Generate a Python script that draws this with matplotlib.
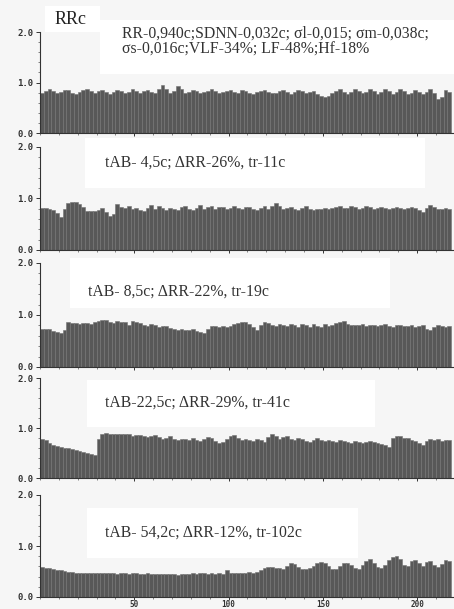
import numpy as np
import matplotlib
matplotlib.use("Agg")
import matplotlib.pyplot as plt
from matplotlib.patches import Rectangle
from matplotlib.ticker import MultipleLocator

# beat number (each bar covers 2 beats) and RR values, s
beats = np.arange(1, 218, 2)

rr_bg = [0.80, 0.84, 0.87, 0.83, 0.79, 0.82, 0.86, 0.85, 0.80, 0.78,
         0.81, 0.85, 0.88, 0.84, 0.79, 0.83, 0.86, 0.82, 0.78, 0.81,
         0.86, 0.83, 0.79, 0.82, 0.87, 0.84, 0.80, 0.83, 0.86, 0.81,
         0.80, 0.88, 0.96, 0.88, 0.80, 0.84, 0.93, 0.87, 0.80, 0.82,
         0.86, 0.83, 0.79, 0.81, 0.84, 0.87, 0.83, 0.79, 0.81, 0.84,
         0.86, 0.82, 0.80, 0.85, 0.83, 0.79, 0.78, 0.81, 0.84, 0.86,
         0.82, 0.79, 0.80, 0.83, 0.86, 0.82, 0.78, 0.81, 0.85, 0.83,
         0.79, 0.81, 0.84, 0.78, 0.73, 0.71, 0.74, 0.79, 0.84, 0.87,
         0.82, 0.78, 0.82, 0.88, 0.84, 0.79, 0.82, 0.87, 0.83, 0.78,
         0.81, 0.87, 0.83, 0.78, 0.82, 0.87, 0.83, 0.78, 0.80, 0.86,
         0.82, 0.77, 0.82, 0.87, 0.80, 0.68, 0.72, 0.85, 0.82]

rr_t1 = [0.82, 0.82, 0.80, 0.78, 0.72, 0.64, 0.80, 0.92, 0.94, 0.93,
         0.90, 0.84, 0.76, 0.75, 0.75, 0.78, 0.82, 0.74, 0.66, 0.70,
         0.90, 0.84, 0.82, 0.85, 0.80, 0.82, 0.78, 0.76, 0.82, 0.87,
         0.80, 0.86, 0.82, 0.78, 0.82, 0.79, 0.78, 0.83, 0.86, 0.80,
         0.78, 0.82, 0.87, 0.80, 0.84, 0.86, 0.80, 0.83, 0.84, 0.79,
         0.82, 0.86, 0.81, 0.79, 0.83, 0.84, 0.80, 0.78, 0.82, 0.85,
         0.80, 0.86, 0.92, 0.85, 0.80, 0.82, 0.84, 0.80, 0.78, 0.82,
         0.85, 0.80, 0.78, 0.79, 0.80, 0.82, 0.80, 0.81, 0.84, 0.86,
         0.82, 0.81, 0.85, 0.84, 0.80, 0.82, 0.86, 0.83, 0.79, 0.82,
         0.84, 0.82, 0.80, 0.81, 0.83, 0.82, 0.79, 0.81, 0.84, 0.82,
         0.78, 0.74, 0.82, 0.87, 0.83, 0.80, 0.80, 0.81, 0.80]

rr_t2 = [0.74, 0.73, 0.74, 0.70, 0.68, 0.65, 0.72, 0.86, 0.84, 0.85,
         0.83, 0.85, 0.84, 0.82, 0.86, 0.89, 0.91, 0.90, 0.86, 0.84,
         0.88, 0.87, 0.86, 0.80, 0.89, 0.87, 0.84, 0.80, 0.78, 0.82,
         0.80, 0.77, 0.79, 0.78, 0.75, 0.74, 0.72, 0.73, 0.71, 0.72,
         0.73, 0.70, 0.68, 0.66, 0.74, 0.79, 0.78, 0.76, 0.79, 0.77,
         0.78, 0.82, 0.84, 0.86, 0.86, 0.82, 0.76, 0.72, 0.80, 0.86,
         0.85, 0.81, 0.78, 0.82, 0.80, 0.78, 0.82, 0.80, 0.77, 0.82,
         0.80, 0.76, 0.82, 0.79, 0.77, 0.82, 0.78, 0.80, 0.84, 0.86,
         0.88, 0.82, 0.80, 0.81, 0.80, 0.82, 0.78, 0.80, 0.81, 0.78,
         0.80, 0.82, 0.79, 0.77, 0.80, 0.81, 0.78, 0.79, 0.80, 0.77,
         0.79, 0.80, 0.74, 0.72, 0.77, 0.80, 0.79, 0.77, 0.78]

rr_t3 = [0.78, 0.76, 0.70, 0.66, 0.64, 0.62, 0.61, 0.60, 0.58, 0.57,
         0.55, 0.53, 0.50, 0.48, 0.47, 0.78, 0.88, 0.90, 0.89, 0.89,
         0.88, 0.89, 0.88, 0.88, 0.84, 0.86, 0.87, 0.84, 0.82, 0.85,
         0.86, 0.82, 0.78, 0.80, 0.84, 0.79, 0.76, 0.78, 0.79, 0.77,
         0.80, 0.76, 0.75, 0.79, 0.82, 0.80, 0.74, 0.70, 0.72, 0.78,
         0.84, 0.86, 0.80, 0.76, 0.78, 0.76, 0.74, 0.79, 0.76, 0.73,
         0.82, 0.88, 0.84, 0.78, 0.82, 0.84, 0.78, 0.76, 0.80, 0.78,
         0.74, 0.72, 0.77, 0.80, 0.76, 0.74, 0.77, 0.75, 0.73, 0.76,
         0.75, 0.72, 0.70, 0.74, 0.73, 0.70, 0.72, 0.74, 0.72, 0.70,
         0.68, 0.66, 0.62, 0.80, 0.85, 0.84, 0.80, 0.80, 0.77, 0.74,
         0.70, 0.66, 0.74, 0.78, 0.77, 0.78, 0.74, 0.76, 0.77]

rr_t4 = [0.58, 0.57, 0.56, 0.55, 0.53, 0.52, 0.51, 0.50, 0.49, 0.48,
         0.48, 0.48, 0.47, 0.47, 0.48, 0.47, 0.47, 0.48, 0.47, 0.47,
         0.46, 0.47, 0.47, 0.46, 0.47, 0.47, 0.46, 0.46, 0.47, 0.46,
         0.46, 0.45, 0.46, 0.46, 0.45, 0.45, 0.44, 0.45, 0.46, 0.46,
         0.47, 0.46, 0.47, 0.47, 0.46, 0.47, 0.46, 0.47, 0.46, 0.52,
         0.47, 0.48, 0.47, 0.48, 0.48, 0.49, 0.48, 0.49, 0.52, 0.57,
         0.59, 0.58, 0.57, 0.56, 0.54, 0.60, 0.66, 0.64, 0.58, 0.55,
         0.54, 0.56, 0.60, 0.66, 0.69, 0.67, 0.60, 0.55, 0.54, 0.60,
         0.66, 0.67, 0.62, 0.56, 0.55, 0.62, 0.70, 0.74, 0.66, 0.58,
         0.56, 0.62, 0.72, 0.79, 0.80, 0.74, 0.62, 0.60, 0.70, 0.73,
         0.66, 0.60, 0.68, 0.70, 0.62, 0.58, 0.64, 0.72, 0.70]

series = [rr_bg, rr_t1, rr_t2, rr_t3, rr_t4]

header = "RRc"
stats_text = ("RR-0,940c;SDNN-0,032c; \u03c3l-0,015; \u03c3m-0,038c;\n"
              "\u03c3s-0,016c;VLF-34%; LF-48%;Hf-18%")
test_labels = ["tAB- 4,5c; \u0394RR-26%, tr-11c",
               "tAB- 8,5c; \u0394RR-22%, tr-19c",
               "tAB-22,5c; \u0394RR-29%, tr-41c",
               "tAB- 54,2c; \u0394RR-12%, tr-102c"]

W, H = 454, 609
fig = plt.figure(figsize=(W / 100, H / 100), dpi=100)
fig.patch.set_facecolor("#f6f6f6")

# panel top / bottom in pixels
panel_px = [(32, 133), (147, 250), (263, 367), (378, 478), (495, 597)]
left_px, right_px = 40, 453

# white label boxes (x0, y0, x1, y1) in pixels
boxes = [(100, 20, 454, 74), (85, 138, 425, 188), (70, 258, 390, 308),
         (87, 380, 375, 427), (87, 508, 358, 558)]
for x0, y0, x1, y1 in boxes:
    fig.add_artist(Rectangle((x0 / W, 1 - y1 / H), (x1 - x0) / W, (y1 - y0) / H,
                             transform=fig.transFigure, facecolor="white",
                             edgecolor="none", zorder=-1))
fig.add_artist(Rectangle((45 / W, 1 - 32 / H), 55 / W, 26 / H,
                         transform=fig.transFigure, facecolor="white",
                         edgecolor="none", zorder=-1))

tick_font = dict(family="DejaVu Sans Mono", size=6.5, weight="bold")

for k, (top, bot) in enumerate(panel_px):
    ax = fig.add_axes([left_px / W, 1 - bot / H, (right_px - left_px) / W, (bot - top) / H])
    ax.set_facecolor("none")
    ax.bar(beats, series[k], width=2, color="#585858", edgecolor="#737373",
           linewidth=0.4, align="center")
    ax.set_xlim(0, 219)
    ax.set_ylim(0, 2.0)
    for s in ["top", "right"]:
        ax.spines[s].set_visible(False)
    ax.spines["left"].set_color("#333333")
    ax.spines["bottom"].set_color("#333333")
    ax.spines["left"].set_linewidth(0.8)
    ax.spines["bottom"].set_linewidth(0.8)
    ax.set_yticks([0.0, 1.0, 2.0])
    ax.set_yticklabels(["0.0", "1.0", "2.0"], **tick_font, color="#333333")
    ax.yaxis.set_minor_locator(MultipleLocator(0.2))
    ax.set_xticks([50, 100, 150, 200])
    ax.xaxis.set_minor_locator(MultipleLocator(10))
    ax.tick_params(axis="both", which="major", length=3, width=0.7,
                   color="#333333", pad=1.5)
    ax.tick_params(axis="x", which="major", length=2.5, pad=0)
    ax.tick_params(axis="both", which="minor", length=1.5, width=0.5,
                   color="#555555")
    if k == len(panel_px) - 1:
        ax.set_xticklabels(["50", "100", "150", "200"], family="DejaVu Sans Mono",
                           size=5.5, weight="bold", color="#333333")
    else:
        ax.set_xticklabels([])

fig.text(55 / W, 1 - 19 / H, header, family="Liberation Serif", fontsize=13,
         va="center", ha="left", color="#222222")
fig.text(122 / W, 1 - 41.5 / H, stats_text, family=["Liberation Serif", "DejaVu Serif"],
         fontsize=11.3, va="center", ha="left", color="#333333", linespacing=1.0)

label_pos = [(105, 163), (88, 292), (105, 403), (105, 533)]
for (x, y), txt in zip(label_pos, test_labels):
    fig.text(x / W, 1 - y / H, txt, family=["Liberation Serif", "DejaVu Serif"],
             fontsize=11.3, va="center", ha="left", color="#333333")

fig.savefig("out.png", dpi=100, facecolor=fig.get_facecolor())
